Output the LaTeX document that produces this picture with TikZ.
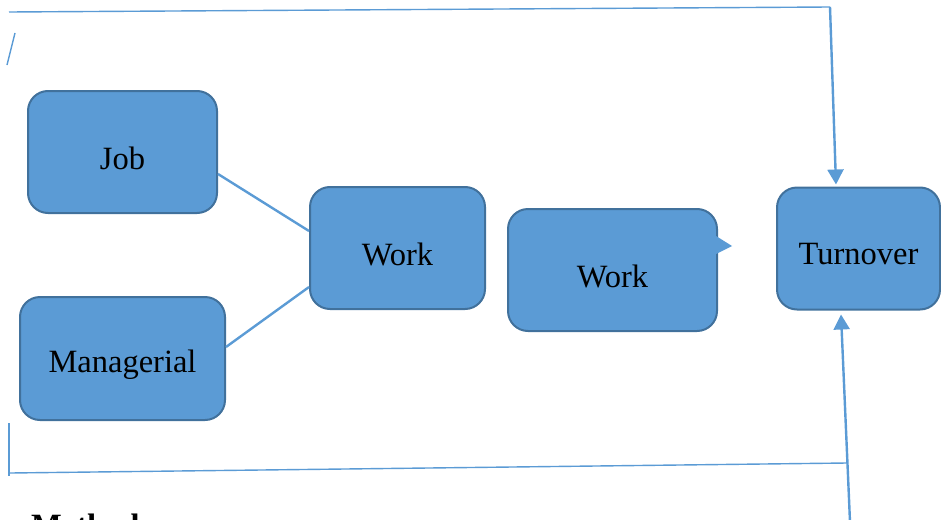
\documentclass[tikz,border=0pt]{standalone}
\usepackage{fontspec}
\setmainfont{Liberation Serif}
\usetikzlibrary{arrows.meta}
\definecolor{boxfill}{HTML}{5B9BD5}
\definecolor{boxline}{HTML}{41719C}
\definecolor{conn}{HTML}{5B9BD5}
\begin{document}
\begin{tikzpicture}[x=1pt,y=-1pt,
  box/.style={draw=boxline, line width=2pt, fill=boxfill, rounded corners=20pt, inner sep=0pt},
  lbl/.style={font=\fontsize{32.5}{37}\selectfont, inner sep=0pt},
  conline/.style={draw=conn, line width=2.4pt},
  thinline/.style={draw=conn, line width=1.4pt},
  tip/.style={-{Triangle[width=16pt,length=15pt]}}]
\useasboundingbox (0,0) rectangle (941,519);

\node[box, minimum width=189pt, minimum height=122pt] (job) at (122.5,152) {};
\node[lbl] (jobt) at ([yshift=-6pt]job.center) {Job};

\node[box, minimum width=205pt, minimum height=123pt] (man) at (122.5,358.5) {};
\node[lbl] (mant) at ([yshift=-6pt]man.center) {Managerial};

\node[box, minimum width=175pt, minimum height=122pt] (wa) at (397.5,248) {};
\node[lbl] (wat) at ([yshift=-6pt]wa.center) {Work};

\node[box, minimum width=209pt, minimum height=122pt] (wb) at (612.5,270) {};
\node[lbl] (wbt) at ([yshift=-6pt]wb.center) {Work};
\fill[boxfill] ([xshift=-2pt,yshift=34pt]wb.east) -- ([xshift=14pt,yshift=24pt]wb.east) -- ([xshift=-2pt,yshift=16pt]wb.east) -- cycle;

\node[box, minimum width=163pt, minimum height=122pt] (turn) at (858.5,248.5) {};
\node[lbl] (turnt) at ([yshift=-6pt]turn.center) {Turnover};

\draw[conline] ([yshift=-22pt]job.east) -- ([yshift=17pt]wa.west);
\draw[conline] ([yshift=11.5pt]man.east) -- ([yshift=-39pt]wa.west);

\coordinate (tl) at (9,12);
\coordinate (tr) at (830,7);
\coordinate (bl) at (10,473);
\coordinate (br) at (847,463);
\coordinate (bs) at (850,522);

\draw[thinline] (tl) -- (tr);
\draw[conline, tip] (tr) -- ([xshift=-22.5pt,yshift=2pt]turn.north);
\draw[thinline] (bl) -- (br);
\draw[conline, tip] (bs) -- ([xshift=-17.5pt,yshift=-4pt]turn.south);

\coordinate (s1) at (15,33);
\coordinate (s2) at (7,65);
\draw[thinline] (s1) -- (s2);
\coordinate (v1) at (9,423);
\coordinate (v2) at (9,476);
\draw[thinline] (v1) -- (v2);

\node[lbl, font=\fontsize{32.5}{37}\selectfont\bfseries, anchor=base west] (meth) at (31,536) {Method};
\end{tikzpicture}
\end{document}
